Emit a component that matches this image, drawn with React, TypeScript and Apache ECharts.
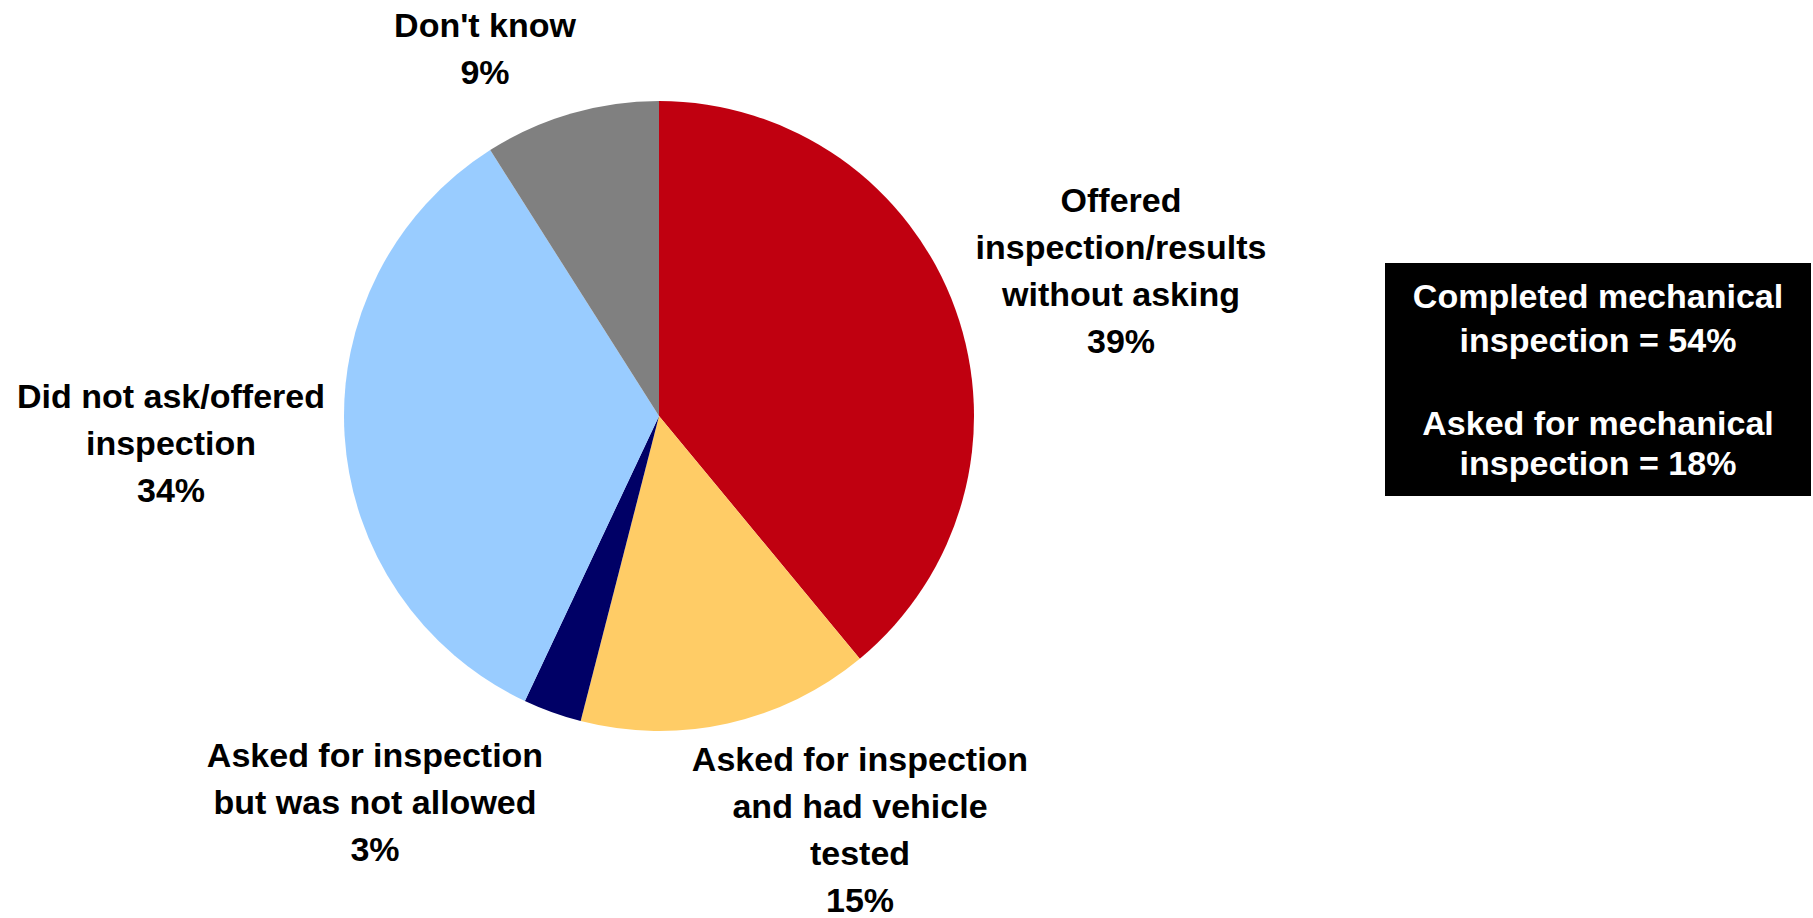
import React, { useEffect, useRef } from "react";
import * as echarts from "echarts";

const categories = [
  "Offered\ninspection/results\nwithout asking",
  "Asked for inspection\nand had vehicle\ntested",
  "Asked for inspection\nbut was not allowed",
  "Did not ask/offered\ninspection",
  "Don't know",
];
const values = [39, 15, 3, 34, 9];
const colors = ["#C00010", "#FFCC66", "#000066", "#99CCFF", "#808080"];
const boxLines = [
  "Completed mechanical",
  "inspection = 54%",
  "Asked for mechanical",
  "inspection = 18%",
];

// label block centres (layout only)
const labelPos = [
  [1121, 270],
  [860, 829],
  [375, 802],
  [171, 443],
  [485, 48],
];
const boxLineY = [296, 340, 423, 463];

export default function App() {
  const ref = useRef<HTMLDivElement>(null);
  useEffect(() => {
    document.body.style.margin = "0";
    const chart = echarts.init(ref.current!, null, { renderer: "svg" });
    const font = "'Liberation Sans', Arial, Helvetica, sans-serif";
    chart.setOption({
      animation: false,
      backgroundColor: "#ffffff",
      series: [
        {
          type: "pie",
          center: [659, 416],
          radius: 315,
          startAngle: 90,
          clockwise: true,
          avoidLabelOverlap: false,
          data: categories.map((c, i) => ({
            name: c,
            value: values[i],
            itemStyle: { color: colors[i] },
          })),
          itemStyle: { borderWidth: 0 },
          label: {
            show: true,
            position: "outside",
            formatter: (p: any) => `${p.name}\n${p.value}%`,
            fontFamily: font,
            fontWeight: "bold",
            fontSize: 34,
            lineHeight: 47,
            color: "#000000",
            align: "center",
          },
          labelLine: { show: false },
          labelLayout: (params: any) => ({
            x: labelPos[params.dataIndex][0],
            y: labelPos[params.dataIndex][1],
            align: "center",
            verticalAlign: "middle",
          }),
          emphasis: { disabled: true },
        },
      ],
      graphic: [
        {
          type: "rect",
          shape: { x: 1385, y: 263, width: 426, height: 233 },
          style: { fill: "#000000" },
        },
        ...boxLines.map((t, i) => ({
          type: "text",
          x: 1598,
          y: boxLineY[i],
          style: {
            text: t,
            fill: "#ffffff",
            font: `bold 34px ${font}`,
            align: "center",
            verticalAlign: "middle",
          },
        })),
      ],
    });
    return () => chart.dispose();
  }, []);
  return <div ref={ref} style={{ width: 1813, height: 918 }} />;
}
